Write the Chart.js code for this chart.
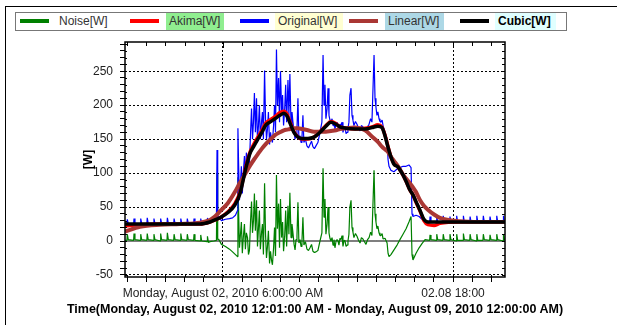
<!DOCTYPE html>
<html>
<head>
<meta charset="utf-8">
<script src="https://cdn.jsdelivr.net/npm/chart.js@4.4.1/dist/chart.umd.min.js"></script>
<style>
  html, body { margin: 0; padding: 0; background: #fff; }
  #wrap { position: relative; width: 617px; height: 325px; overflow: hidden; font-family: "Liberation Sans", Arial, sans-serif; }
  #frame { position: absolute; left: 5px; top: 6px; width: 700px; height: 400px; border-top: 1px solid #000; border-left: 1px solid #000; }
  #legend { position: absolute; left: 15px; top: 12px; width: 550px; height: 17px; border: 1px solid #777; background: #fff; }
  .sw { position: absolute; top: 6px; width: 29px; height: 4px; }
  .lb { position: absolute; top: 0; height: 17px; line-height: 17px; font-size: 12px; color: #333; padding: 0 3px; box-sizing: border-box; }
  #xtitle { position: absolute; left: 0; top: 302px; width: 630px; text-align: center; font-size: 12.5px; line-height: 14px; font-weight: bold; color: #000; white-space: nowrap; }
  canvas { position: absolute; left: 0; top: 0; }
</style>
</head>
<body>
<div id="wrap">
  <div id="frame"></div>
  <canvas id="chart" width="617" height="325"></canvas>
  <div id="legend"></div>
  <div id="xtitle">Time(Monday, August 02, 2010 12:01:00 AM - Monday, August 09, 2010 12:00:00 AM)</div>
</div>
<script>
const smoothHours = [0.89, 1.67, 2.71, 3.76, 4.80, 5.32, 5.58, 5.89, 6.26, 6.62, 6.89, 7.04, 7.20, 7.41, 7.62, 7.82, 8.03, 8.24, 8.45, 8.71, 8.97, 9.18, 9.34, 9.49, 9.70, 9.91, 10.12, 10.43, 10.75, 11.06, 11.37, 11.63, 11.89, 12.10, 12.42, 12.89, 13.41, 13.77, 14.08, 14.29, 14.45, 14.61, 14.76, 14.92, 15.13, 15.34, 15.55, 15.75, 15.91, 16.07, 16.28, 16.48, 16.69, 17.01, 17.32, 18.36, 19.41, 20.71];
const cubicW = [25, 25, 25, 25, 25, 28, 31, 35, 42, 53, 70, 88, 108, 129, 140, 150, 160, 171, 175, 180, 185, 188, 184, 174, 160, 153, 151, 151, 153, 160, 169, 175, 172, 168, 166, 165, 165, 167, 169, 167, 155, 138, 124, 113, 109, 100, 88, 75, 68, 58, 45, 32, 28, 28, 28, 28, 28, 28];
const akimaW = [22, 24, 25, 25, 25, 28, 31, 35, 43, 55, 72, 90, 110, 131, 143, 153, 163, 174, 178, 183, 189, 191, 187, 176, 161, 153, 150, 150, 153, 161, 170, 176, 173, 168, 166, 165, 166, 168, 171, 168, 156, 139, 124, 114, 109, 100, 88, 75, 68, 57, 44, 30, 24, 23, 26, 28, 28, 28];
const linearW = [14, 21, 24, 25, 27, 31, 36, 45, 56, 72, 86, 93, 101, 111, 120, 128, 136, 143, 149, 156, 160, 163, 164, 165, 166, 166, 165, 163, 161, 161, 161, 162, 163, 165, 166, 167, 163, 154, 146, 139, 135, 131, 124, 118, 110, 100, 92, 85, 79, 72, 60, 52, 46, 39, 34, 29, 28, 28];

const rawHours = [
  0.89, 0.99, 1.01, 1.06, 1.34, 1.36, 1.41, 1.69, 1.71, 1.76, 2.03, 2.05, 2.10, 2.38, 2.40, 2.45, 2.73, 2.75, 2.80, 3.08,
  3.10, 3.15, 3.43, 3.45, 3.50, 3.78, 3.80, 3.85, 4.12, 4.14, 4.19, 4.47, 4.49, 4.54, 4.82, 4.84, 4.89, 5.17, 5.19, 5.24,
  5.32, 5.53, 5.66, 5.69, 5.71, 5.74, 5.77, 5.92, 6.13, 6.34, 6.50, 6.65, 6.76, 6.78, 6.81, 6.86, 6.96, 7.01, 7.06, 7.12,
  7.17, 7.22, 7.28, 7.33, 7.38, 7.44, 7.49, 7.54, 7.59, 7.64, 7.69, 7.75, 7.80, 7.85, 7.90, 7.95, 8.01, 8.06, 8.11, 8.17,
  8.22, 8.27, 8.32, 8.37, 8.43, 8.48, 8.53, 8.58, 8.64, 8.69, 8.74, 8.79, 8.84, 8.90, 8.95, 9.00, 9.06, 9.11, 9.16, 9.22,
  9.27, 9.32, 9.39, 9.44, 9.49, 9.55, 9.60, 9.65, 9.71, 9.76, 9.81, 9.86, 9.91, 9.96, 10.02, 10.07, 10.12, 10.17, 10.22, 10.30,
  10.38, 10.46, 10.54, 10.62, 10.69, 10.77, 10.85, 10.95, 11.06, 11.16, 11.22, 11.27, 11.32, 11.37, 11.43, 11.48, 11.53, 11.58, 11.63, 11.69,
  11.74, 11.79, 11.84, 11.90, 11.95, 12.00, 12.05, 12.10, 12.15, 12.21, 12.26, 12.31, 12.36, 12.42, 12.47, 12.52, 12.57, 12.62, 12.68, 12.73,
  12.78, 12.83, 12.91, 12.99, 13.07, 13.15, 13.22, 13.30, 13.38, 13.46, 13.54, 13.62, 13.70, 13.77, 13.88, 13.93, 13.98, 14.03, 14.08, 14.14,
  14.19, 14.24, 14.30, 14.35, 14.45, 14.56, 14.61, 14.66, 14.76, 14.92, 15.08, 15.23, 15.39, 15.55, 15.70, 15.81, 15.86, 15.91, 16.07, 16.23,
  16.38, 16.54, 16.78, 16.80, 16.85, 17.13, 17.15, 17.20, 17.47, 17.49, 17.54, 17.82, 17.84, 17.89, 18.17, 18.19, 18.24, 18.52, 18.54, 18.59,
  18.87, 18.89, 18.94, 19.22, 19.24, 19.29, 19.56, 19.58, 19.63, 19.91, 19.93, 19.98, 20.26, 20.28, 20.33, 20.61, 20.63, 20.68, 20.71
];
const originalW = [
  25, 25, 32, 26, 25, 33, 26, 25, 33, 26, 25, 34, 26, 25, 33, 26, 25, 33, 26, 25,
  34, 26, 25, 33, 26, 25, 33, 26, 25, 33, 26, 25, 33, 26, 25, 33, 26, 27, 34, 27,
  28, 31, 33, 134, 120, 35, 36, 30, 32, 33, 34, 38, 45, 166, 120, 60, 110, 70, 100, 125,
  95, 130, 120, 105, 115, 160, 195, 150, 175, 218, 160, 210, 145, 170, 200, 150, 175, 190, 150, 251,
  180, 150, 165, 190, 142, 160, 150, 145, 170, 200, 160, 282, 200, 240, 175, 250, 190, 215, 170, 195,
  230, 175, 237, 185, 246, 170, 190, 175, 160, 150, 158, 165, 210, 150, 155, 145, 152, 185, 145, 150,
  140, 137, 142, 147, 139, 136, 140, 145, 160, 175, 274, 200, 230, 180, 195, 225, 185, 178, 175, 180,
  170, 176, 165, 172, 175, 168, 162, 172, 170, 175, 160, 166, 168, 158, 160, 166, 175, 215, 225, 185,
  178, 170, 176, 172, 166, 162, 170, 168, 164, 160, 168, 172, 180, 175, 274, 210, 197, 185, 190, 180,
  176, 175, 178, 170, 160, 150, 120, 110, 104, 102, 106, 108, 110, 110, 112, 108, 40, 36, 38, 36,
  32, 30, 27, 36, 28, 27, 37, 28, 27, 37, 28, 27, 36, 28, 27, 37, 28, 27, 37, 28,
  27, 36, 28, 27, 37, 28, 27, 37, 28, 27, 36, 28, 27, 37, 28, 27, 37, 28, 28
];
const noiseW = [
  1, 1, 10, 2, 1, 11, 2, 1, 10, 2, 1, 11, 2, 1, 10, 2, 0, 11, 2, 1,
  12, 2, 1, 10, 2, 1, 11, 2, 1, 10, 2, 1, 10, 1, 0, 9, 0, -1, 7, -2,
  -1, 0, 1, 100, 88, 2, 3, -5, -8, -12, -16, -20, -23, 94, 50, -10, 28, -18, 5, 25,
  -12, 12, 5, -20, -14, 30, 58, 12, 30, 70, 15, 60, -8, 18, 45, -12, 12, 25, -20, 85,
  10, -25, -8, 15, -33, -15, -28, -35, -10, 20, -22, 97, 18, 55, -10, 62, 5, 28, -15, 8,
  45, -8, 52, 10, 71, 5, 25, 12, -5, -13, 2, 8, 57, -3, 2, -8, 0, 35, -6, -1,
  -12, -14, -10, -5, -15, -17, -16, -14, 0, 12, 107, 35, 62, 10, 25, 50, 12, 4, 0, 5,
  -6, 2, -10, 0, 2, 0, -6, 4, 2, 8, -8, 0, 1, -8, -6, 0, 10, 50, 60, 20,
  13, 5, 11, 7, 1, -3, 5, 3, -1, -5, 2, 5, 13, 8, 104, 40, 28, 18, 22, 12,
  8, 8, 11, 3, 4, -3, -18, -23, -20, -13, -6, 2, 10, 18, 28, 36, -20, -28, -18, -10,
  -4, 2, 1, 9, 2, 1, 10, 2, 1, 10, 2, 1, 10, 2, 0, 10, 1, 1, 11, 2,
  1, 10, 2, 0, 10, 1, 1, 10, 2, 1, 9, 2, 1, 10, 2, 0, 10, 2, 2
];

const xTickHours = [1, 2, 3, 4, 5, 6, 7, 8, 9, 10, 11, 12, 13, 14, 15, 16, 17, 18, 19, 20];
const xLabelHours = [6, 18];
const xLabelTexts = ["Monday, August 02, 2010 6:00:00 AM", "02.08 18:00"];
const yTickValues = [-50, -40, -30, -20, -10, 0, 10, 20, 30, 40, 50, 60, 70, 80, 90, 100, 110, 120, 130, 140, 150, 160, 170, 180, 190, 200, 210, 220, 230, 240, 250, 260, 270, 280, 290];
const yLabelValues = [-50, 0, 50, 100, 150, 200, 250];

const FONT = "'Liberation Sans', Arial, sans-serif";

const to_points = (xs, ys) => xs.map((x, i) => ({ x: x, y: ys[i] }));

const series = [
  { label: "Noise[W]", color: "rgb(0,128,0)", width: 1.2, order: 4, xs: rawHours, ys: noiseW, smooth: false, bg: "transparent", bold: false },
  { label: "Akima[W]", color: "rgb(255,0,0)", width: 3.5, order: 2, xs: smoothHours, ys: akimaW, smooth: true, bg: "rgb(144,238,144)", bold: false },
  { label: "Original[W]", color: "rgb(0,0,255)", width: 1.2, order: 3, xs: rawHours, ys: originalW, smooth: false, bg: "rgb(255,255,210)", bold: false },
  { label: "Linear[W]", color: "rgb(170,55,52)", width: 4, order: 1, xs: smoothHours, ys: linearW, smooth: true, bg: "rgb(173,216,230)", bold: false },
  { label: "Cubic[W]", color: "rgb(0,0,0)", width: 3.5, order: 0, xs: smoothHours, ys: cubicW, smooth: true, bg: "rgb(224,255,255)", bold: true },
];

const legendSlots = [
  { sw: 4, lb: 40, w: 56 },
  { sw: 114, lb: 150, w: 58 },
  { sw: 224, lb: 259, w: 68 },
  { sw: 333, lb: 369, w: 59 },
  { sw: 444, lb: 479, w: 61 },
];

const build_legend = () => {
  const box = document.getElementById("legend");
  series.forEach((s, i) => {
    const slot = legendSlots[i];
    const sw = document.createElement("span");
    sw.className = "sw";
    sw.style.left = slot.sw + "px";
    sw.style.background = s.color;
    const lb = document.createElement("span");
    lb.className = "lb";
    lb.style.left = slot.lb + "px";
    lb.style.width = slot.w + "px";
    lb.style.background = s.bg;
    if (s.bold) {
      lb.style.fontWeight = "bold";
      lb.style.color = "#000";
    }
    lb.textContent = s.label;
    box.appendChild(sw);
    box.appendChild(lb);
  });
};

const frame_plugin = {
  id: "frame",
  beforeDatasetsDraw(chart) {
    const { ctx, chartArea } = chart;
    const y0 = chart.scales.y.getPixelForValue(0);
    ctx.save();
    ctx.strokeStyle = "#555";
    ctx.lineWidth = 1.5;
    ctx.beginPath();
    ctx.moveTo(chartArea.left, y0);
    ctx.lineTo(chartArea.right, y0);
    ctx.stroke();
    ctx.restore();
  },
  afterDraw(chart) {
    const { ctx, chartArea } = chart;
    const xs = chart.scales.x;
    const ys = chart.scales.y;
    ctx.save();
    ctx.strokeStyle = "#000";
    ctx.lineWidth = 1;
    ctx.beginPath();
    xs.ticks.forEach((t) => {
      const px = Math.round(xs.getPixelForValue(t.value)) + 0.5;
      const len = xLabelHours.includes(t.value) ? 6 : 4;
      ctx.moveTo(px, chartArea.top);
      ctx.lineTo(px, chartArea.top + len);
      ctx.moveTo(px, chartArea.bottom);
      ctx.lineTo(px, chartArea.bottom - 2);
    });
    ys.ticks.forEach((t) => {
      const py = Math.round(ys.getPixelForValue(t.value)) + 0.5;
      ctx.moveTo(chartArea.right, py);
      ctx.lineTo(chartArea.right - 3, py);
      ctx.moveTo(chartArea.left, py);
      ctx.lineTo(chartArea.left + 2, py);
    });
    ctx.stroke();
    ctx.lineWidth = 1.5;
    ctx.strokeRect(chartArea.left, chartArea.top, chartArea.right - chartArea.left, chartArea.bottom - chartArea.top);
    ctx.restore();
  },
};

const get_datasets = () =>
  series.map((s) => ({
    label: s.label,
    data: to_points(s.xs, s.ys),
    borderColor: s.color,
    borderWidth: s.width,
    borderJoinStyle: s.smooth ? "round" : "bevel",
    pointRadius: 0,
    fill: false,
    order: s.order,
    tension: s.smooth ? 0.4 : 0,
    cubicInterpolationMode: s.smooth ? "monotone" : "default",
  }));

const get_chart_config = () => ({
  type: "line",
  data: { datasets: get_datasets() },
  options: {
    responsive: false,
    animation: false,
    layout: { padding: { left: 81, right: 112, top: 42, bottom: 5 } },
    plugins: { legend: { display: false }, tooltip: { enabled: false } },
    scales: {
      x: {
        type: "linear",
        min: 0.89,
        max: 20.71,
        afterBuildTicks: (scale) => {
          scale.ticks = xTickHours.map((v) => ({ value: v }));
        },
        afterFit: (scale) => {
          scale.height = 43;
        },
        ticks: {
          autoSkip: false,
          maxRotation: 0,
          padding: 4,
          color: "#222",
          font: { family: FONT, size: 12 },
          callback: (v) => {
            const i = xLabelHours.indexOf(v);
            return i >= 0 ? xLabelTexts[i] : "";
          },
        },
        grid: {
          color: (c) => (c.tick && xLabelHours.includes(c.tick.value) ? "#000" : "rgba(0,0,0,0)"),
          lineWidth: 1,
          tickColor: "#000",
          tickLength: 5,
        },
        border: { display: false, dash: [2, 2] },
      },
      y: {
        type: "linear",
        min: -53,
        max: 293,
        afterBuildTicks: (scale) => {
          scale.ticks = yTickValues.map((v) => ({ value: v }));
        },
        afterFit: (scale) => {
          scale.width = 44;
        },
        ticks: {
          autoSkip: false,
          padding: 7,
          color: "#222",
          font: { family: FONT, size: 12 },
          callback: (v) => (yLabelValues.includes(v) ? String(v) : ""),
        },
        grid: {
          color: (c) => (c.tick && yLabelValues.includes(c.tick.value) && c.tick.value !== 0 ? "#000" : "rgba(0,0,0,0)"),
          lineWidth: 1,
          tickColor: "#000",
          tickLength: 5,
        },
        border: { display: false, dash: [2, 2] },
        title: {
          display: true,
          text: "[W]",
          color: "#000",
          font: { family: FONT, size: 12, weight: "bold" },
          padding: { top: 0, bottom: 0 },
        },
      },
    },
  },
  plugins: [frame_plugin],
});

build_legend();
const resultChart = new Chart(document.getElementById("chart"), get_chart_config());
</script>
</body>
</html>
